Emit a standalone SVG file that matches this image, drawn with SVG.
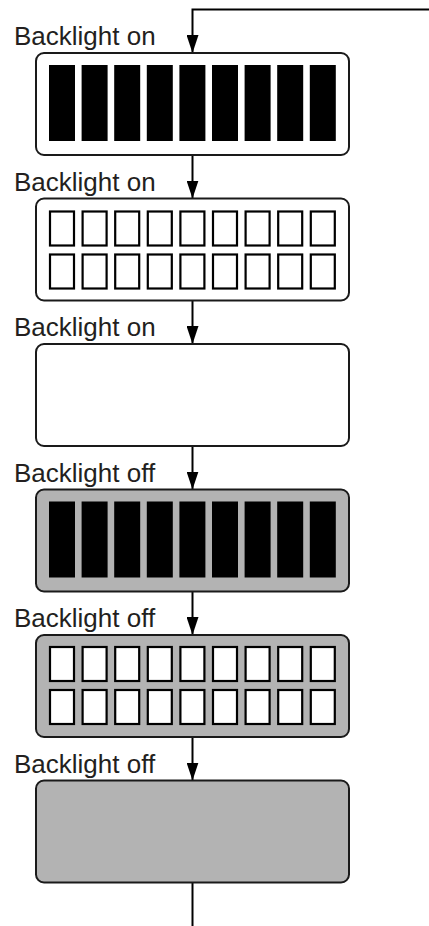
<svg xmlns="http://www.w3.org/2000/svg" width="429" height="926" viewBox="0 0 429 926">
<defs>
<style>
.lbl{font-family:"Liberation Sans",Arial,sans-serif;font-size:26px;fill:#231f20}
.box{stroke:#1a1a1a;stroke-width:2}
.on{fill:#ffffff}
.off{fill:#b3b3b3}
.bar{fill:#000}
.cell{fill:#fff;stroke:#000;stroke-width:2.2}
.con{fill:none;stroke:#000;stroke-width:2}
</style>
<marker id="ah" markerWidth="18" markerHeight="12" refX="18" refY="6" orient="auto" markerUnits="userSpaceOnUse" viewBox="0 0 18 12">
<path d="M0,0 L18,6 L0,12 Z" fill="#000"/>
</marker>
<g id="bars">
<rect class="bar" x="49" y="12" width="26" height="76"/>
<rect class="bar" x="81.6" y="12" width="26" height="76"/>
<rect class="bar" x="114.2" y="12" width="26" height="76"/>
<rect class="bar" x="146.8" y="12" width="26" height="76"/>
<rect class="bar" x="179.4" y="12" width="26" height="76"/>
<rect class="bar" x="212" y="12" width="26" height="76"/>
<rect class="bar" x="244.6" y="12" width="26" height="76"/>
<rect class="bar" x="277.2" y="12" width="26" height="76"/>
<rect class="bar" x="309.8" y="12" width="26" height="76"/>
</g>
<g id="cellrow">
<rect class="cell" x="50" y="0" width="24" height="34"/>
<rect class="cell" x="82.6" y="0" width="24" height="34"/>
<rect class="cell" x="115.2" y="0" width="24" height="34"/>
<rect class="cell" x="147.8" y="0" width="24" height="34"/>
<rect class="cell" x="180.4" y="0" width="24" height="34"/>
<rect class="cell" x="213" y="0" width="24" height="34"/>
<rect class="cell" x="245.6" y="0" width="24" height="34"/>
<rect class="cell" x="278.2" y="0" width="24" height="34"/>
<rect class="cell" x="310.8" y="0" width="24" height="34"/>
</g>
</defs>
<rect width="429" height="926" fill="#fff"/>
<g id="connectors">
<path class="con" d="M429,9.5 H192.5 V53" marker-end="url(#ah)"/>
<path class="con" d="M192.5,155 V198.5" marker-end="url(#ah)"/>
<path class="con" d="M192.5,300.5 V344" marker-end="url(#ah)"/>
<path class="con" d="M192.5,446 V489.5" marker-end="url(#ah)"/>
<path class="con" d="M192.5,591.5 V635" marker-end="url(#ah)"/>
<path class="con" d="M192.5,737 V780.5" marker-end="url(#ah)"/>
<path class="con" d="M192.5,882.5 V926"/>
</g>
<g id="n1">
<text class="lbl" x="14" y="45">Backlight on</text>
<rect class="box on" x="36" y="53" width="313" height="102" rx="8"/>
<use href="#bars" y="53"/>
</g>
<g id="n2">
<text class="lbl" x="14" y="190.5">Backlight on</text>
<rect class="box on" x="36" y="198.5" width="313" height="102" rx="8"/>
<use href="#cellrow" y="211.5"/>
<use href="#cellrow" y="254.5"/>
</g>
<g id="n3">
<text class="lbl" x="14" y="336">Backlight on</text>
<rect class="box on" x="36" y="344" width="313" height="102" rx="8"/>
</g>
<g id="n4">
<text class="lbl" x="14" y="481.5">Backlight off</text>
<rect class="box off" x="36" y="489.5" width="313" height="102" rx="8"/>
<use href="#bars" y="489.5"/>
</g>
<g id="n5">
<text class="lbl" x="14" y="627">Backlight off</text>
<rect class="box off" x="36" y="635" width="313" height="102" rx="8"/>
<use href="#cellrow" y="647"/>
<use href="#cellrow" y="690"/>
</g>
<g id="n6">
<text class="lbl" x="14" y="772.5">Backlight off</text>
<rect class="box off" x="36" y="780.5" width="313" height="102" rx="8"/>
</g>
</svg>
